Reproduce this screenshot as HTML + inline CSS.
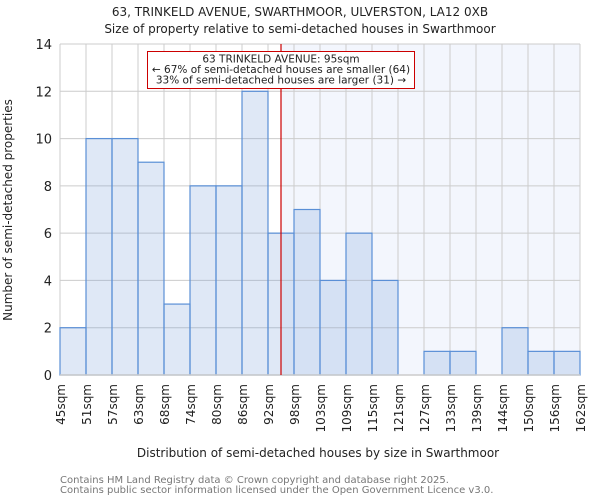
<!DOCTYPE html>
<html><head><meta charset="utf-8"><style>
body{margin:0;background:#fff}
svg{display:block;font-family:"DejaVu Sans","Liberation Sans",sans-serif}
</style></head><body>
<svg id="c" width="600" height="500" viewBox="0 0 600 500">
<text x="300" y="16" text-anchor="middle" font-size="12" fill="#222">63, TRINKELD AVENUE, SWARTHMOOR, ULVERSTON, LA12 0XB</text>
<text x="300" y="33" text-anchor="middle" font-size="12" fill="#222">Size of property relative to semi-detached houses in Swarthmoor</text>
<g id="plot"></g>
<text x="318" y="457" text-anchor="middle" font-size="12" fill="#222">Distribution of semi-detached houses by size in Swarthmoor</text>
<text transform="translate(12,210) rotate(-90)" text-anchor="middle" font-size="12" fill="#222">Number of semi-detached properties</text>
<text x="60" y="483" font-size="10" fill="#777">Contains HM Land Registry data © Crown copyright and database right 2025.</text>
<text x="60" y="493" font-size="10" fill="#777">Contains public sector information licensed under the Open Government Licence v3.0.</text>
</svg>
<script>
const binLabels=["45sqm","51sqm","57sqm","63sqm","68sqm","74sqm","80sqm","86sqm","92sqm","98sqm","103sqm","109sqm","115sqm","121sqm","127sqm","133sqm","139sqm","144sqm","150sqm","156sqm","162sqm"];
const binEdges=[45,51,57,63,68,74,80,86,92,98,103,109,115,121,127,133,139,144,150,156,162];
const counts=[2,10,10,9,3,8,8,12,6,7,4,6,4,0,1,1,0,2,1,1];
const yTicks=[0,2,4,6,8,10,12,14];
const propertySize=95;
const L=60,R=580,T=44,B=375,YMAX=14;
const n=counts.length,bw=(R-L)/n;
const xi=i=>L+i*bw;
const y=v=>B-(v/YMAX)*(B-T);
function xv(v){for(let i=0;i<binEdges.length-1;i++){if(v<=binEdges[i+1])return xi(i)+(v-binEdges[i])/(binEdges[i+1]-binEdges[i])*bw;}return R;}
const NS="http://www.w3.org/2000/svg",g=document.getElementById('plot');
function mk(t,a){const e=document.createElementNS(NS,t);for(const k in a)e.setAttribute(k,a[k]);g.appendChild(e);return e;}
const px=xv(propertySize);
let e=mk('rect',{x:px,y:T,width:R-px,height:B-T,fill:'#f3f6fd'});


yTicks.forEach(t=>{const l=mk('line',{x1:L,x2:R,y1:y(t),y2:y(t),stroke:'#ccc','stroke-width':1});


const tx=mk('text',{x:L-8,y:y(t)+5,'text-anchor':'end','font-size':13,fill:'#222'});tx.textContent=t;

});
binLabels.forEach((lb,i)=>{const x=xi(i);
const l=mk('line',{x1:x,x2:x,y1:T,y2:B,stroke:'#ccc','stroke-width':1});


const tx=mk('text',{transform:`translate(${x+5},${B+9}) rotate(-90)`,'text-anchor':'end','font-size':12,fill:'#222'});tx.textContent=lb;

});
counts.forEach((c,i)=>{if(c<=0)return;const r=mk('rect',{x:xi(i),y:y(c),width:bw,height:B-y(c),fill:'rgba(110,150,215,0.22)',stroke:'#5a8fd6','stroke-width':1.2});

});
e=mk('line',{x1:L,x2:R,y1:B,y2:B,stroke:'#ccc','stroke-width':1.5});


e=mk('line',{x1:px,x2:px,y1:T,y2:B,stroke:'#cc0000','stroke-width':1.2});


e=mk('rect',{x:147.5,y:51.5,width:267,height:37,fill:'#fff',stroke:'#cc0000','stroke-width':1});


["63 TRINKELD AVENUE: 95sqm","← 67% of semi-detached houses are smaller (64)","33% of semi-detached houses are larger (31) →"].forEach((s,i)=>{const t=mk('text',{x:281,y:62.5+i*10.5,'text-anchor':'middle','font-size':10.5,fill:'#222'});t.textContent=s;

});
</script>
</body></html>
